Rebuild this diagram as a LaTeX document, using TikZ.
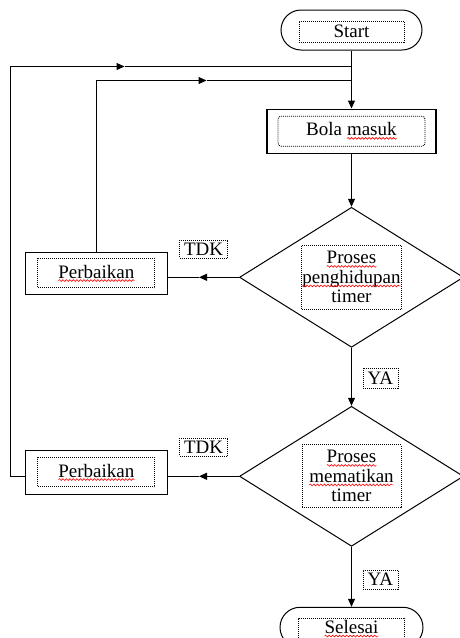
\documentclass[tikz,border=0pt]{standalone}
\usepackage{fontspec}
\setmainfont{Liberation Serif}
\usetikzlibrary{shapes.geometric,arrows.meta,positioning,decorations.pathmorphing}
\newcommand{\salah}[1]{\tikz[baseline=(kata.base)]{\node[inner sep=0pt, outer sep=0pt, minimum width=0pt, minimum height=0pt, draw=none, solid, sharp corners] (kata) {#1}; \draw[red, solid, sharp corners, line width=0.6pt, decorate, decoration={snake, amplitude=0.9pt, segment length=3.5pt}] ([yshift=-2.5pt]kata.base west) -- ([yshift=-2.5pt]kata.base east);}}
\tikzstyle{terminal} = [draw, line width=1pt, rounded corners=20pt, minimum width=141pt, minimum height=40pt]
\tikzstyle{proses} = [rectangle, draw, line width=1.3pt, minimum width=169pt, minimum height=44pt]
\tikzstyle{keputusan} = [diamond, draw, line width=1pt, minimum width=224pt, minimum height=140pt, inner sep=0pt]
\tikzstyle{teks} = [rectangle, draw, line width=0.8pt, dash pattern=on 1pt off 1pt, inner sep=0.5pt, align=center]
\tikzstyle{label} = [teks, minimum height=18pt, inner sep=1pt]
\tikzstyle{line} = [draw, line width=1pt, -{Triangle[length=8pt,width=7pt]}]
\tikzstyle{plain} = [draw, line width=1pt]

\begin{document}
\begin{tikzpicture}[font=\fontsize{19}{19.5}\selectfont]
    \useasboundingbox (0,0) rectangle (459pt,-638pt);
    % main column
    \node [terminal] (start) at (351.5pt,-30pt) {};
    \node [teks, minimum width=105pt, minimum height=21pt] (startin) at ([yshift=-1.5pt]start) {Start};
    \node [proses, below=58pt of start] (bola) {};
    \node [teks, rounded corners=3pt, minimum width=147pt, minimum height=30pt] (bolain) at (bola) {Bola \salah{masuk}};
    \node [keputusan, below=53pt of bola] (cek1) {};
    \node [teks, minimum width=99pt, minimum height=64pt] (cek1in) at (cek1) {\salah{Proses}\\\salah{penghidupan}\\timer};
    \node [keputusan, below=58pt of cek1] (cek2) {};
    \node [teks, minimum width=99pt, minimum height=63pt] (cek2in) at (cek2) {\salah{Proses}\\\salah{mematikan}\\timer};
    \node [terminal, minimum width=143pt, below=60pt of cek2] (selesai) {};
    \node [teks, minimum width=106pt, minimum height=21pt] (selesaiin) at ([yshift=-1.5pt]selesai) {\salah{Selesai}};
    % repair boxes
    \node [proses, minimum width=142pt, minimum height=42pt, left=71pt of cek1, yshift=4pt] (baik1) {};
    \node [teks, minimum width=117pt, minimum height=29pt] (baik1in) at (baik1) {\salah{Perbaikan}};
    \node [proses, minimum width=142pt, minimum height=44pt, left=71pt of cek2, yshift=4pt] (baik2) {};
    \node [teks, minimum width=117pt, minimum height=29pt] (baik2in) at (baik2) {\salah{Perbaikan}};
    % labels
    \node [label, minimum width=48pt, above left=19pt and 11pt of cek1.west] (tdk1) {TDK};
    \node [label, minimum width=48pt, above left=20pt and 11pt of cek2.west] (tdk2) {TDK};
    \node [label, minimum width=35pt, minimum height=20pt, below right=20pt and 11pt of cek1.south] (ya1) {YA};
    \node [label, minimum width=35pt, minimum height=19pt, below right=23pt and 11pt of cek2.south] (ya2) {YA};
    % main flow
    \path [line] (start) -- (bola);
    \path [line] (bola) -- (cek1);
    \path [line] (cek1) -- (cek2);
    \path [line] (cek2) -- (selesai);
    % to repair
    \coordinate [left=40pt of cek1.west] (panah1);
    \coordinate [left=40pt of cek2.west] (panah2);
    \path [line] (cek1.west) -- (panah1);
    \path [plain] (panah1) -- (baik1.east |- cek1.west);
    \path [line] (cek2.west) -- (panah2);
    \path [plain] (panah2) -- (baik2.east |- cek2.west);
    % loops back
    \coordinate [below=16pt of start] (gabung2);
    \coordinate [below=30pt of start] (gabung1);
    \coordinate [left=145pt of gabung1] (panah3);
    \coordinate [left=227pt of gabung2] (panah4);
    \path [line] (baik1.north) |- (panah3);
    \path [plain] (panah3) -- (gabung1);
    \coordinate (kiri2) at (baik2.west |- cek2.west);
    \coordinate [left=14pt of kiri2] (sudut2);
    \path [line] (kiri2) -- (sudut2) |- (panah4);
    \path [plain] (panah4) -- (gabung2);
\end{tikzpicture}
\end{document}
